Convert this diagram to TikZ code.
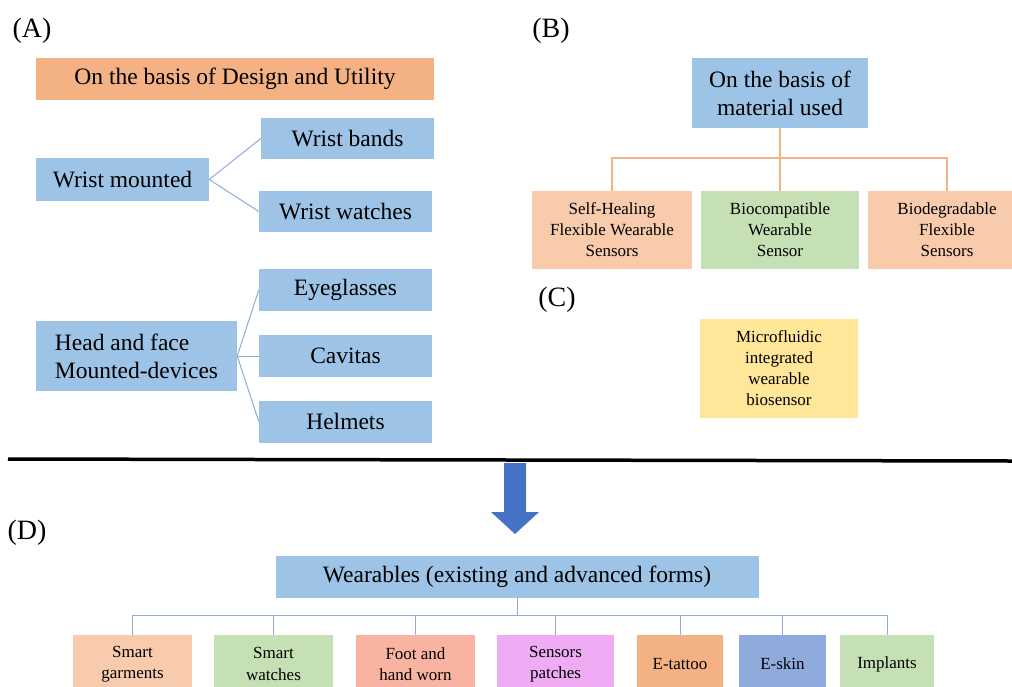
\documentclass[tikz,border=0pt]{standalone}
\usepackage{fontspec}
\setmainfont{Liberation Serif}
\usepackage{tikz}
\usetikzlibrary{positioning}

\definecolor{boxblue}{HTML}{9DC3E6}
\definecolor{boxorange}{HTML}{F4B183}
\definecolor{boxpeach}{HTML}{F8CBAD}
\definecolor{boxgreen}{HTML}{C5E0B4}
\definecolor{boxyellow}{HTML}{FFE699}
\definecolor{boxsalmon}{HTML}{F8B4A0}
\definecolor{boxpink}{HTML}{F0ABF5}
\definecolor{boxskin}{HTML}{8FAADC}
\definecolor{linkblue}{HTML}{8FAADC}
\definecolor{arrowblue}{HTML}{4472C4}

\begin{document}
\begin{tikzpicture}[x=1pt,y=-1pt,
    cell/.style 2 args={inner sep=0pt,align=center,minimum width=#1pt,minimum height=#2pt,
      font=\fontsize{23.5}{28}\selectfont},
    small/.style 2 args={inner sep=0pt,align=center,minimum width=#1pt,minimum height=#2pt,
      font=\fontsize{17}{21}\selectfont},
    tag/.style={inner sep=0pt,font=\fontsize{28}{30}\selectfont},
    link/.style={linkblue,line width=1pt},
    olink/.style={boxorange,line width=1.4pt}]

  \useasboundingbox (0,0) rectangle (1012,686);
  \clip (0,0) rectangle (1012,686);

  % (A) design and utility
  \node[tag] (tagA) at (32,31) {(A)};
  \node[cell={398}{42},fill=boxorange] (design) at (235,79) {On the basis of Design and Utility};

  \node[cell={173}{43},fill=boxblue] (wrist) at (122.5,179.5) {Wrist mounted};
  \node[cell={173}{41},fill=boxblue] (bands) at (347.5,138.5) {Wrist bands};
  \node[cell={173}{41},fill=boxblue] (watches) at (345.5,211.5) {Wrist watches};
  \draw[link] (wrist.east) -- (bands.west);
  \draw[link] (wrist.east) -- (watches.west);

  \node[cell={201}{70},fill=boxblue,align=left] (head) at (136.5,356) {Head and face\\Mounted-devices};
  \node[cell={173}{42},fill=boxblue] (glasses) at (345.5,290) {Eyeglasses};
  \node[cell={173}{42},fill=boxblue] (cavitas) at (345.5,356) {Cavitas};
  \node[cell={173}{42},fill=boxblue] (helmets) at (345.5,421.5) {Helmets};
  \foreach \n in {glasses,cavitas,helmets}
    \draw[link] (head.east) -- (\n.west);

  % (B) material
  \node[tag] (tagB) at (551,31) {(B)};
  \node[cell={176}{70},fill=boxblue] (material) at (780,93) {On the basis of\\material used};
  \node[small={160}{78},fill=boxpeach] (selfheal) at (612,230) {Self-Healing\\Flexible Wearable\\Sensors};
  \node[small={158}{78},fill=boxgreen] (biocomp) at (780,230) {Biocompatible\\Wearable\\Sensor};
  \node[small={158}{78},fill=boxpeach] (biodeg) at (947,230) {Biodegradable\\Flexible\\Sensors};
  \coordinate (bbus) at (780,158);
  \draw[olink] (material.south) -- (bbus);
  \draw[olink] (selfheal.north) |- (bbus) -| (biodeg.north);
  \draw[olink] (bbus) -- (biocomp.north);

  % (C) microfluidic
  \node[tag] (tagC) at (557,300) {(C)};
  \node[small={158}{99},fill=boxyellow] (micro) at (779,368.5) {Microfluidic\\integrated\\wearable\\biosensor};

  % divider and arrow
  \draw[line width=3.5pt] (8,459) -- (1012,461);
  \fill[arrowblue] (504,463) -- (526,463) -- (526,512) -- (539,512) -- (515,534)
    -- (491,512) -- (504,512) -- cycle;

  % (D) wearables
  \node[tag] (tagD) at (27,533) {(D)};
  \node[cell={483}{42},fill=boxblue] (wear) at (517,577) {Wearables (existing and advanced forms)};
  \coordinate (dbus) at (517,615);
  \draw[link] (wear.south) -- (dbus);

  \foreach \n/\cx/\w/\col/\txt in {
      garments/132.5/119/boxpeach/{Smart\\garments},
      smartw/273.5/119/boxgreen/{Smart\\watches},
      foot/415.5/119/boxsalmon/{Foot and\\hand worn},
      patches/555.5/117/boxpink/{Sensors\\patches},
      tattoo/680/86/boxorange/{E-tattoo},
      eskin/782.5/87/boxskin/{E-skin},
      implants/887/94/boxgreen/{Implants}}
    {
      \node[small={\w}{58},fill=\col,font=\fontsize{17}{21.5}\selectfont] (\n) at (\cx,664) {\txt};
      \draw[link] (\n.north) |- (dbus);
    }

\end{tikzpicture}
\end{document}
